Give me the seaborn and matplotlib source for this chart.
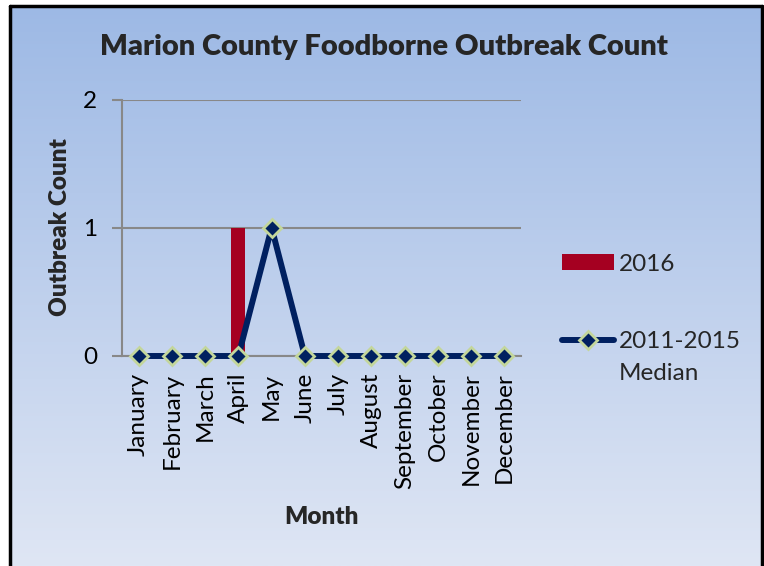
import numpy as np
import pandas as pd
import matplotlib
matplotlib.use("Agg")
import matplotlib.pyplot as plt
import seaborn as sns
from matplotlib.lines import Line2D
from matplotlib.patches import Patch
from matplotlib.legend_handler import HandlerLine2D

# ---- data ----
months = ["January", "February", "March", "April", "May", "June",
          "July", "August", "September", "October", "November", "December"]
outbreaks_2016 = [0, 0, 0, 1, 0, 0, 0, 0, 0, 0, 0, 0]
median_2011_2015 = [0, 0, 0, 0, 1, 0, 0, 0, 0, 0, 0, 0]
y_ticks = [0, 1, 2]
series_labels = ["2016", "2011-2015\nMedian"]

BAR_COLOR = "#A50021"
LINE_COLOR = "#002060"
EDGE_COLOR = "#C3D69B"
GRID_COLOR = "#888888"

sns.set_theme(style="white")
plt.rcParams['font.family'] = ['Lato', 'DejaVu Sans']

W, H = 764, 566
FS = 17.5
fig = plt.figure(figsize=(W / 100, H / 100), dpi=100)
fig.patch.set_facecolor("white")

# gradient background panel
bg = fig.add_axes([10 / W, 0, 752 / W, 1 - 6 / H])
grad = np.linspace(0, 1, 256)[:, None, None]
top = np.array([157, 185, 229]) / 255
bot = np.array([223, 230, 244]) / 255
img = top + (bot - top) * grad
bg.imshow(img, aspect="auto", extent=[0, 1, 0, 1], origin="upper")
bg.set_axis_off()
# border (left, top, right)
for xs, ys in [([10 / W, 10 / W], [0, 1 - 6 / H]),
               ([10 / W, 762 / W], [1 - 6 / H, 1 - 6 / H]),
               ([762 / W, 762 / W], [0, 1 - 6 / H])]:
    fig.add_artist(Line2D(xs, ys, color="black", lw=2.5, transform=fig.transFigure))

# main axes
ax = fig.add_axes([122 / W, (H - 356) / H, 399 / W, (356 - 99.5) / H])
ax.patch.set_alpha(0)

df = pd.DataFrame({"Month": months, "y2016": outbreaks_2016, "median": median_2011_2015})
sns.barplot(data=df, x="Month", y="y2016", color=BAR_COLOR, width=0.42,
            saturation=1, linewidth=0, ax=ax, zorder=3)
sns.pointplot(data=df, x="Month", y="median", color=LINE_COLOR, errorbar=None,
              marker="D", markersize=9.5, markeredgecolor=EDGE_COLOR,
              markeredgewidth=2, linewidth=4.3, ax=ax, zorder=4)
for ln in ax.lines:
    ln.set_clip_on(False)
    ln.set_zorder(5)

ax.set_ylim(0, 2)
ax.set_xlim(-0.5, len(months) - 0.5)
ax.set_yticks(y_ticks)
ax.set_yticklabels([str(v) for v in y_ticks], fontsize=FS, color="black")
ax.set_xticks(range(len(months)))
ax.set_xticklabels(months, rotation=90, fontsize=FS, color="black")
ax.tick_params(axis="x", which="major", length=0, pad=12)
ax.set_xticks(np.arange(-0.5, len(months), 1), minor=True)
ax.tick_params(axis="x", which="minor", length=5, width=1.5, color=GRID_COLOR, direction="out")
ax.tick_params(axis="y", length=7, width=1.5, color=GRID_COLOR, direction="out", pad=11, left=True)
ax.yaxis.grid(True, color=GRID_COLOR, lw=1.5)
ax.set_axisbelow(True)
for s in ["top", "right"]:
    ax.spines[s].set_visible(False)
for s in ["left", "bottom"]:
    ax.spines[s].set_color(GRID_COLOR)
    ax.spines[s].set_linewidth(1.5)
    ax.spines[s].set_zorder(2)
ax.set_xlabel("")
ax.set_ylabel("")

# texts
fig.text(384 / W, 1 - 47 / H, "Marion County Foodborne Outbreak Count",
         ha="center", va="center", fontsize=21, fontweight="heavy")
fig.text(60 / W, 1 - 227 / H, "Outbreak Count", rotation=90,
         ha="center", va="center", fontsize=FS, fontweight="heavy")
fig.text(321 / W, 1 - 517 / H, "Month", ha="center", va="center",
         fontsize=FS, fontweight="heavy")


class FirstLineHandler(HandlerLine2D):
    """Aligns the line handle with the first line of a two-line label."""
    def create_artists(self, legend, orig_handle, xdescent, ydescent,
                       width, height, fontsize, trans):
        shift = 17 * 72 / 100  # points
        return super().create_artists(legend, orig_handle, xdescent,
                                      ydescent - 2 * shift, width, height,
                                      fontsize, trans)


line_handle = Line2D([], [], color=LINE_COLOR, lw=4.3, marker="D", markersize=9.5,
                     markerfacecolor=LINE_COLOR, markeredgecolor=EDGE_COLOR,
                     markeredgewidth=2, solid_capstyle="round")
handles = [Patch(facecolor=BAR_COLOR, edgecolor="none"), line_handle]
leg = fig.legend(handles, series_labels, loc="upper left",
                 bbox_to_anchor=(552 / W, 1 - 244 / H), frameon=False, fontsize=FS,
                 handlelength=2.15, handleheight=0.62, handletextpad=0.2,
                 labelspacing=2.3, borderaxespad=0,
                 handler_map={line_handle: FirstLineHandler()})
for t in leg.get_texts():
    t.set_linespacing(1.65)

fig.savefig("out.png", dpi=100)
